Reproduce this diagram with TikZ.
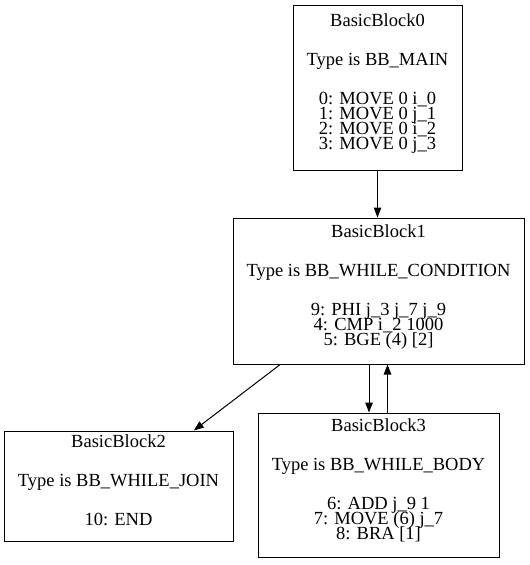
\documentclass[tikz,border=0pt]{standalone}
\usepackage{fontspec}
\setmainfont{Liberation Serif}
\usetikzlibrary{arrows.meta,calc}

% block text: tight fixed line pitch
\newcommand\blockfont{\fontsize{18.5}{15}\selectfont\setlength{\lineskiplimit}{-30pt}}
% strut that gives the last line of a block a fixed depth
\newcommand\blockend{\rule[-12.6pt]{0pt}{12.6pt}}
% gap after the title line and after the type line of a block
\newcommand\secgap{\\[24pt]}

\tikzset{
  block/.style={draw=black, line width=1pt, align=center, inner sep=0pt,
    font=\blockfont},
  flow/.style={draw=black, line width=1pt,
    -{Triangle[length=10pt,width=7.5pt]}},
}

\begin{document}
\begin{tikzpicture}[x=1pt, y=-1pt]
\useasboundingbox (0,0) rectangle (530,565);

\node[block, minimum width=169pt, minimum height=165pt] (bb0) at (377.5,87.5)
  {BasicBlock0\secgap Type is BB\_MAIN\secgap
   0: MOVE 0 i\_0\\ 1: MOVE 0 j\_1\\ 2: MOVE 0 i\_2\\ 3: MOVE 0 j\_3\blockend};

\node[block, minimum width=291pt, minimum height=146pt] (bb1) at (378.5,291)
  {BasicBlock1\secgap Type is BB\_WHILE\_CONDITION\secgap
   9: PHI j\_3 j\_7 j\_9\\ 4: CMP i\_2 1000\\ 5: BGE (4) [2]\blockend};

\node[block, minimum width=229pt, minimum height=110pt] (bb2) at (118.5,486)
  {BasicBlock2\secgap Type is BB\_WHILE\_JOIN\secgap 10: END\blockend};

\node[block, minimum width=241pt, minimum height=144pt] (bb3) at (378.5,485)
  {BasicBlock3\secgap Type is BB\_WHILE\_BODY\secgap
   6: ADD j\_9 1\\ 7: MOVE (6) j\_7\\ 8: BRA [1]\blockend};

% control-flow edges
\draw[flow] (bb0.south) -- (bb0.south |- bb1.north);
\draw[flow] ($(bb1.south west)+(47.7,0)$) -- ($(bb2.north east)+(-39.7,0)$);
\coordinate (down) at ($(bb1.south)+(-9.5,0)$);
\coordinate (up) at ($(bb3.north)+(9,0)$);
\draw[flow] (down) -- (down |- bb3.north);
\draw[flow] (up) -- (up |- bb1.south);
\end{tikzpicture}
\end{document}
